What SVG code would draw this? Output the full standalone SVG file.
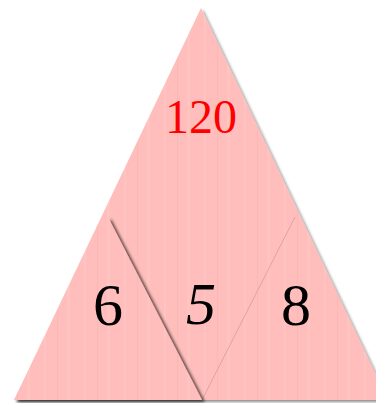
<svg xmlns="http://www.w3.org/2000/svg" width="376" height="403" viewBox="0 0 376 403">
  <defs>
    <pattern id="stripes" patternUnits="userSpaceOnUse" width="40" height="10">
      <rect width="40" height="10" fill="#ffbebb"/>
      <rect x="4" width="2" height="10" fill="#ffc4c1"/>
      <rect x="17" width="1" height="10" fill="#f9bab7"/>
      <rect x="27" width="3" height="10" fill="#ffc3c0"/>
    </pattern>
    <filter id="shadow" x="-10%" y="-10%" width="130%" height="130%">
      <feDropShadow dx="2" dy="2" stdDeviation="1.5" flood-color="#000" flood-opacity="0.45"/>
    </filter>
    <filter id="shadowStrong" x="-10%" y="-10%" width="130%" height="130%">
      <feDropShadow dx="3" dy="2" stdDeviation="1.8" flood-color="#000" flood-opacity="0.65"/>
    </filter>
  </defs>
  <style>
    .tri { fill: url(#stripes); }
    .num { font-family: "Liberation Serif", "Times New Roman", serif; text-anchor: middle; fill: #000; font-size: 60px; }
    .top { fill: #ff0000; font-size: 48px; }
  </style>
  <g id="top-triangle" filter="url(#shadow)">
    <polygon class="tri" points="201,8 14,400 388,400"/>
  </g>
  <g id="right-triangle">
    <polygon class="tri" points="295,217 202,400 388,400"/>
    <line x1="295" y1="217" x2="202" y2="400" stroke="#e2a3a0" stroke-width="1"/>
  </g>
  <g id="left-triangle" filter="url(#shadowStrong)">
    <polygon class="tri" points="108,217 14,400 202,400"/>
  </g>
  <g id="connectors"/>
  <g id="labels">
    <text class="num top" x="201" y="133">120</text>
    <text class="num" x="108" y="325">6</text>
    <text class="num" x="201" y="324" font-style="italic">5</text>
    <text class="num" x="296" y="325">8</text>
  </g>
</svg>
